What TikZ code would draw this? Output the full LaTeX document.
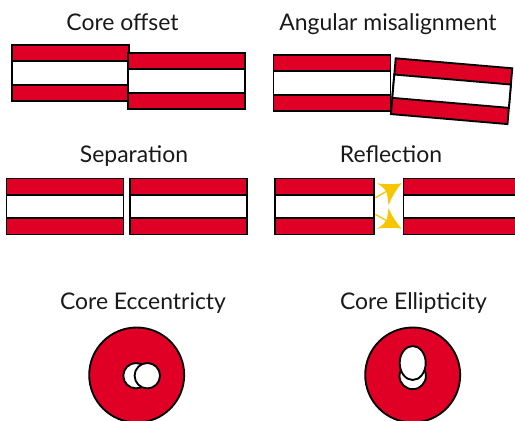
\documentclass[tikz,border=0pt]{standalone}
\usepackage{fontspec}
\setmainfont{Lato}
\usepackage{xcolor}
\usetikzlibrary{positioning}
\definecolor{fibrered}{HTML}{E00025}
\definecolor{raygold}{HTML}{F6C700}
\tikzset{
  fibreline/.style={draw=black,line width=1.4pt},
  cladfill/.style={fibreline,fill=fibrered},
  corefill/.style={fibreline,fill=white},
  raytail/.style={draw=raygold,line width=1pt},
  rayhead/.style={fill=raygold,draw=none},
  caption/.style={anchor=base,font=\fontsize{17.2}{20}\selectfont,text=black!90,inner sep=0pt}
}
% one fibre of given length, upper left corner at the scope origin
\newcommand{\fibrebar}[1]{%
  \draw[cladfill] (0,0) rectangle (#1,56);
  \draw[corefill] (0,16.3) rectangle (#1,39.7);
}
\begin{document}
\begin{tikzpicture}[x=0.75pt,y=-0.75pt]
\useasboundingbox (0,0) rectangle (515,421);
\clip (0,0) rectangle (515,421);
\node[caption] (offset) at (122.5,31) {Core offset};
\node[caption] (angular) at (388,31) {Angular misalignment};
\node[caption] (separation) at (134,162) {Separation};
\node[caption] (reflection) at (391,162) {Reflection};
\node[caption] (eccentricity) at (143,309) {Core Eccentricty};
\node[caption] (ellipticity) at (413.5,309) {Core Ellipticity};
\foreach \x/\y/\w in {12/45/117,128/53/117,273.5/55/117,6.5/178.5/117,130/178.5/117,275/178.5/99,403.5/178.5/117}{
  \begin{scope}[shift={(\x,\y)}]
    \fibrebar{\w}
  \end{scope}
}
\begin{scope}[shift={(395.7,58.3)},rotate=-4.9]
  \fibrebar{117}
\end{scope}
% reflected rays
\draw[raytail] (375.3,197.7) -- (389,190);
\draw[raytail] (375.3,214.3) -- (389,222);
\fill[rayhead] (401.5,183.3) .. controls (394,184.5) and (385,184.5) .. (377,183.3) .. controls (382,186) and (385,189) .. (387,193) .. controls (387.5,197) and (388,201) .. (388.7,205.5) .. controls (391,198) and (396,190) .. (401.5,183.3);
\fill[rayhead] (401.5,228.7) .. controls (394,227.5) and (385,227.5) .. (377,228.7) .. controls (382,226) and (385,223) .. (387,219) .. controls (387.5,215) and (388,212) .. (388.7,208) .. controls (391,215) and (396,222) .. (401.5,228.7);
% end views
\draw[cladfill] (136.7,375) circle (47.5);
\draw[corefill] (136,375.7) circle (12.7);
\draw[corefill] (147.3,375.7) circle (12.7);
\draw[cladfill] (412.7,375) circle (47.5);
\draw[corefill] (412.7,376) circle (13.2);
\draw[corefill] (412.7,363) ellipse (13 and 17);
\end{tikzpicture}
\end{document}
